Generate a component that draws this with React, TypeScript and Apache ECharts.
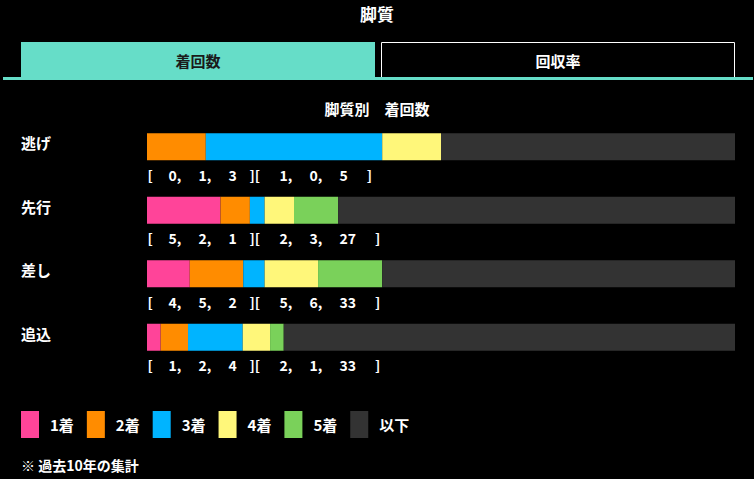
import { useEffect, useRef } from "react";
import * as echarts from "echarts";

// 脚質 categories and place counts (過去10年)
const STYLES = ["逃げ", "先行", "差し", "追込"];
const PLACE_NAMES = ["1着", "2着", "3着", "4着", "5着", "以下"];
const FIRST = [0, 5, 4, 1];
const SECOND = [1, 2, 5, 2];
const THIRD = [3, 1, 2, 4];
const FOURTH = [1, 2, 5, 2];
const FIFTH = [0, 3, 6, 1];
const OTHERS = [5, 27, 33, 33];
const PLACE_COLORS = ["#ff4499", "#ff8c00", "#00b4ff", "#fff77a", "#7ad15a", "#333333"];

const FONT = "'Noto Sans CJK JP', 'Noto Sans', sans-serif";
const TEAL = "#66ddc8";

export default function App() {
  const chartRef = useRef<HTMLDivElement>(null);

  useEffect(() => {
    document.body.style.margin = "0";
    document.body.style.background = "#000";
    if (!chartRef.current) return;
    const chart = echarts.init(chartRef.current, null, { renderer: "svg" });

    const places = [FIRST, SECOND, THIRD, FOURTH, FIFTH, OTHERS];
    const totals = STYLES.map((_, i) => places.reduce((s, p) => s + p[i], 0));

    const base = { color: "#fff", fontSize: 15, fontWeight: "bold" as const, fontFamily: FONT };
    const num = {
      color: "#ffffff",
      fontSize: 14,
      fontWeight: "bold" as const,
      fontFamily: FONT,
      textBorderWidth: 0,
      opacity: 1,
    };

    const barSeries = places.map((p, k) => ({
      name: PLACE_NAMES[k],
      type: "bar" as const,
      stack: "total",
      barWidth: 27,
      itemStyle: { color: PLACE_COLORS[k] },
      emphasis: { disabled: true },
      data: p.map((v, i) => (v / totals[i]) * 100),
    }));

    chart.setOption({
      animation: false,
      backgroundColor: "#000",
      title: [
        {
          text: "脚質",
          left: "center",
          top: 5,
          padding: 0,
          textStyle: { color: "#fff", fontSize: 17, fontWeight: "bold", fontFamily: FONT },
        },
        {
          text: "脚質別　着回数",
          left: "center",
          top: 101,
          padding: 0,
          textStyle: { color: "#fff", fontSize: 15, fontWeight: "bold", fontFamily: FONT },
        },
      ],
      legend: {
        data: PLACE_NAMES,
        left: 21,
        top: 411,
        padding: 0,
        itemWidth: 18,
        itemHeight: 27,
        itemGap: 13,
        icon: "rect",
        selectedMode: false,
        textStyle: {
          color: "#fff",
          fontSize: 15,
          fontWeight: "bold",
          fontFamily: FONT,
          width: 24,
          padding: [0, 0, 0, 6],
        },
      },
      grid: { left: 147, right: 19, top: 115, height: 254 },
      xAxis: { type: "value", min: 0, max: 100, show: false },
      yAxis: {
        type: "category",
        data: STYLES,
        inverse: true,
        axisLine: { show: false },
        axisTick: { show: false },
        splitLine: { show: false },
        axisLabel: {
          align: "left",
          margin: 126,
          verticalAlign: "middle",
          formatter: (v: string) => `{a|${v}}`,
          rich: { a: { ...base, padding: [0, 0, 8, 0] } },
        },
      },
      graphic: [
        {
          type: "rect",
          shape: { x: 21, y: 42, width: 354, height: 36 },
          style: { fill: TEAL },
          silent: true,
        },
        {
          type: "rect",
          shape: { x: 381.5, y: 42.5, width: 353, height: 36 },
          style: { fill: "none", stroke: "#fff", lineWidth: 1 },
          silent: true,
        },
        {
          type: "rect",
          shape: { x: 3, y: 77, width: 750, height: 3 },
          style: { fill: TEAL },
          silent: true,
        },
        {
          type: "text",
          x: 198,
          y: 60,
          style: {
            text: "着回数",
            fill: "#1a1a1a",
            fontSize: 15,
            fontWeight: "bold",
            fontFamily: FONT,
            textAlign: "center",
            textVerticalAlign: "middle",
          },
          silent: true,
        },
        {
          type: "text",
          x: 558,
          y: 60,
          style: {
            text: "回収率",
            fill: "#fff",
            fontSize: 15,
            fontWeight: "bold",
            fontFamily: FONT,
            textAlign: "center",
            textVerticalAlign: "middle",
          },
          silent: true,
        },
        {
          type: "text",
          x: 21,
          y: 465,
          style: {
            text: "※ 過去10年の集計",
            fill: "#fff",
            fontSize: 14,
            fontWeight: "bold",
            fontFamily: FONT,
            textVerticalAlign: "middle",
          },
          silent: true,
        },
      ],
      series: [
        ...barSeries,
        {
          name: "counts",
          type: "scatter",
          symbolSize: 1,
          itemStyle: { color: "rgba(0,0,0,0)" },
          silent: true,
          z: 5,
          data: STYLES.map((_, i) => [0, i]),
          label: {
            show: true,
            position: "right",
            distance: 0,
            offset: [0, 28],
            ...num,
            formatter: (p: { dataIndex: number }) => {
              const i = p.dataIndex;
              return (
                `{o|[}{n|${FIRST[i]},}{n|${SECOND[i]},}{p|${THIRD[i]}}` +
                `{m|][}{n|${FOURTH[i]},}{n|${FIFTH[i]},}{q|${OTHERS[i]}}{c|]}`
              );
            },
            rich: {
              o: { ...num, width: 21 },
              n: { ...num, width: 30 },
              p: { ...num, width: 21 },
              m: { ...num, width: 30 },
              q: { ...num },
              c: { ...num, padding: [0, 0, 0, 19] },
            },
          },
        },
      ],
    });

    return () => chart.dispose();
  }, []);

  return <div ref={chartRef} style={{ width: "754px", height: "479px", background: "#000" }} />;
}
